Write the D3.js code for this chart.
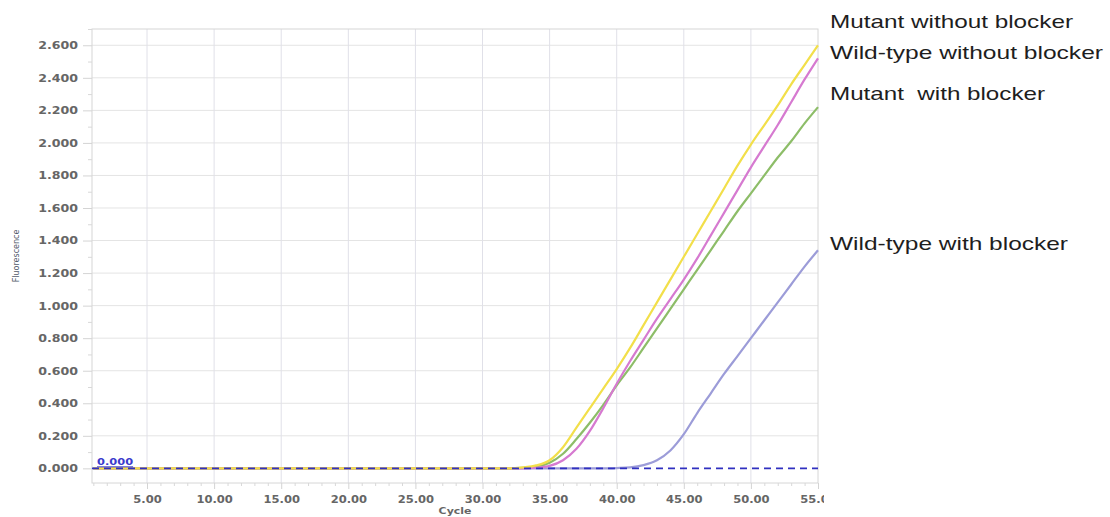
<!DOCTYPE html>
<html>
<head>
<meta charset="utf-8">
<script src="https://cdn.jsdelivr.net/npm/d3@7"></script>
<style>
  html, body { margin: 0; padding: 0; background: #ffffff; }
  svg { display: block; }
</style>
</head>
<body>
<svg id="chart" width="1110" height="517"></svg>
<script>
// ---------- DATA ----------
const cycles = [1,2,3,4,5,6,7,8,9,10,11,12,13,14,15,16,17,18,19,20,21,22,23,24,25,26,27,28,29,30,31,32,33,34,35,36,37,38,39,40,41,42,43,44,45,46,47,48,49,50,51,52,53,54,55];

const mutantWithoutBlocker = [0,0,0,0,0,0,0,0,0,0,0,0,0,0,0,0,0,0,0,0,0,0,0,0,0,0,0,0,0,0,0,0,
  0.006,0.018,0.05,0.13,0.25,0.37,0.49,0.61,0.74,0.88,1.02,1.16,1.30,1.44,1.58,1.72,1.86,1.99,2.11,2.23,2.36,2.48,2.60];
const wildTypeWithoutBlocker = [0,0,0,0,0,0,0,0,0,0,0,0,0,0,0,0,0,0,0,0,0,0,0,0,0,0,0,0,0,0,0,0,
  0,0.004,0.015,0.05,0.12,0.23,0.37,0.52,0.66,0.79,0.92,1.04,1.16,1.29,1.43,1.57,1.71,1.85,1.98,2.11,2.25,2.39,2.52];
const mutantWithBlocker = [0,0,0,0,0,0,0,0,0,0,0,0,0,0,0,0,0,0,0,0,0,0,0,0,0,0,0,0,0,0,0,0,
  0.003,0.01,0.035,0.09,0.18,0.28,0.39,0.51,0.62,0.74,0.86,0.98,1.10,1.22,1.34,1.46,1.58,1.69,1.80,1.91,2.01,2.12,2.22];
const wildTypeWithBlocker = [0,0,0,0,0,0,0,0,0,0,0,0,0,0,0,0,0,0,0,0,0,0,0,0,0,0,0,0,0,0,0,0,
  0,0,0,0,0,0,0,0.002,0.006,0.02,0.05,0.11,0.21,0.34,0.46,0.58,0.69,0.80,0.91,1.02,1.13,1.24,1.34];

const seriesNames = ["Mutant without blocker", "Wild-type without blocker", "Mutant  with blocker", "Wild-type with blocker"];
const seriesValues = [mutantWithoutBlocker, wildTypeWithoutBlocker, mutantWithBlocker, wildTypeWithBlocker];
const seriesColors = ["#f2df4a", "#d67ad0", "#8dbd68", "#9c9cd8"];

const yTickValues = [0,0.2,0.4,0.6,0.8,1.0,1.2,1.4,1.6,1.8,2.0,2.2,2.4,2.6];
const yTickLabels = ["0.000","0.200","0.400","0.600","0.800","1.000","1.200","1.400","1.600","1.800","2.000","2.200","2.400","2.600"];
const xTickValues = [5,10,15,20,25,30,35,40,45,50,55];
const xTickLabels = ["5.00","10.00","15.00","20.00","25.00","30.00","35.00","40.00","45.00","50.00","55.00"];
const thresholdValue = 0;
const thresholdLabel = "0.000";

const legendBaselines = [28, 58.5, 100, 250];
const legendWidths = [243, 273, 215, 238];

// ---------- LAYOUT ----------
const svg = d3.select("#chart");
const plot = { left: 92, top: 29, right: 818, bottom: 483 };

const x = d3.scaleLinear().domain([0.9, 55]).range([plot.left, plot.right]);
const y = d3.scaleLinear().domain([-0.09, 2.7]).range([plot.bottom, plot.top]);

const stretch = (sel, k) => sel.each(function() {
  const w = this.getComputedTextLength();
  d3.select(this).attr("textLength", w * k).attr("lengthAdjust", "spacingAndGlyphs");
});

// grid lines
const grid = svg.append("g");
grid.selectAll("line.h").data(yTickValues.filter(v => v > 0)).join("line")
  .attr("x1", plot.left).attr("x2", plot.right)
  .attr("y1", d => y(d)).attr("y2", d => y(d))
  .attr("stroke", "#e4e4e4").attr("stroke-width", 1);
grid.selectAll("line.v").data(xTickValues.filter(v => v < 55)).join("line")
  .attr("x1", d => x(d)).attr("x2", d => x(d))
  .attr("y1", plot.top).attr("y2", plot.bottom)
  .attr("stroke", "#e0e0e8").attr("stroke-width", 1);

// frame
svg.append("rect")
  .attr("x", plot.left).attr("y", plot.top)
  .attr("width", plot.right - plot.left).attr("height", plot.bottom - plot.top)
  .attr("fill", "none").attr("stroke", "#d6d6d6").attr("stroke-width", 1);

// Y axis
const yAxis = d3.axisLeft(y)
  .tickValues(yTickValues)
  .tickFormat((d, i) => yTickLabels[i])
  .tickSize(9).tickPadding(5);
const gy = svg.append("g").attr("transform", `translate(${plot.left},0)`).call(yAxis);
gy.select(".domain").remove();
gy.selectAll(".tick line").attr("stroke", "#d4d4d4");
gy.selectAll(".tick text")
  .attr("fill", "#666666")
  .style("font-family", "'DejaVu Sans', sans-serif")
  .style("font-size", "10.5px")
  .style("font-weight", "bold");
gy.selectAll(".tick text").call(stretch, 1.2);

// Y minor ticks
const yMinor = d3.axisLeft(y).tickValues(yTickValues.map(v => v + 0.1)).tickSize(4).tickFormat("");
const gym = svg.append("g").attr("transform", `translate(${plot.left},0)`).call(yMinor);
gym.select(".domain").remove();
gym.selectAll(".tick line").attr("stroke", "#d8d8d8");

// X axis
const xAxis = d3.axisBottom(x)
  .tickValues(xTickValues)
  .tickFormat((d, i) => xTickLabels[i])
  .tickSize(6).tickPadding(7);
svg.append("clipPath").attr("id", "xclip")
  .append("rect").attr("x", 0).attr("y", 0).attr("width", 824).attr("height", 517);
const gx = svg.append("g").attr("transform", `translate(0,${plot.bottom})`)
  .attr("clip-path", "url(#xclip)").call(xAxis);
gx.select(".domain").remove();
gx.selectAll(".tick line").attr("stroke", "#d4d4d4");
gx.selectAll(".tick text")
  .attr("fill", "#666666")
  .style("font-family", "'DejaVu Sans', sans-serif")
  .style("font-size", "10px")
  .style("font-weight", "bold");
gx.selectAll(".tick text").call(stretch, 1.15);

// X minor ticks (every cycle)
const xMinor = d3.axisBottom(x).tickValues(cycles.filter(c => c % 5 !== 0)).tickSize(3).tickFormat("");
const gxm = svg.append("g").attr("transform", `translate(0,${plot.bottom})`).call(xMinor);
gxm.select(".domain").remove();
gxm.selectAll(".tick line").attr("stroke", "#d8d8d8");

// axis titles
svg.append("text")
  .attr("x", (plot.left + plot.right) / 2).attr("y", 514)
  .attr("text-anchor", "middle")
  .attr("fill", "#666666")
  .style("font-family", "'DejaVu Sans', sans-serif")
  .style("font-size", "9.5px").style("font-weight", "bold")
  .text("Cycle").call(stretch, 1.15);

svg.append("text")
  .attr("transform", `translate(19,${(plot.top + plot.bottom) / 2}) rotate(-90)`)
  .attr("text-anchor", "middle")
  .attr("fill", "#505868")
  .style("font-family", "'DejaVu Sans', sans-serif")
  .style("font-size", "8px")
  .text("Fluorescence");

// curves
const line = d3.line()
  .x((d, i) => x(cycles[i]))
  .y(d => y(d))
  .curve(d3.curveMonotoneX);

const curves = svg.append("g");
[3, 2, 1, 0].forEach(k => {
  curves.append("path")
    .datum(seriesValues[k])
    .attr("d", line)
    .attr("fill", "none")
    .attr("stroke", seriesColors[k])
    .attr("stroke-width", 2.2)
    .attr("stroke-linejoin", "round");
});

// threshold dashed line
svg.append("line")
  .attr("x1", plot.left).attr("x2", plot.right)
  .attr("y1", y(thresholdValue)).attr("y2", y(thresholdValue))
  .attr("stroke", "#3030c0").attr("stroke-width", 1.6)
  .attr("stroke-dasharray", "7,5");
svg.append("text")
  .attr("x", plot.left + 5).attr("y", y(thresholdValue) - 3)
  .attr("fill", "#3a3acc")
  .style("font-family", "'DejaVu Sans', sans-serif")
  .style("font-size", "9.5px").style("font-weight", "bold")
  .style("text-decoration", "underline")
  .text(thresholdLabel).call(stretch, 1.2);

// right-side labels
svg.append("g").selectAll("text").data(seriesNames).join("text")
  .attr("x", 830)
  .attr("y", (d, i) => legendBaselines[i])
  .attr("fill", "#1e1e1e")
  .style("font-family", "'Liberation Sans', Arial, sans-serif")
  .style("font-size", "19px")
  .style("white-space", "pre")
  .attr("xml:space", "preserve")
  .attr("textLength", (d, i) => legendWidths[i])
  .attr("lengthAdjust", "spacingAndGlyphs")
  .text(d => d);
</script>
</body>
</html>
